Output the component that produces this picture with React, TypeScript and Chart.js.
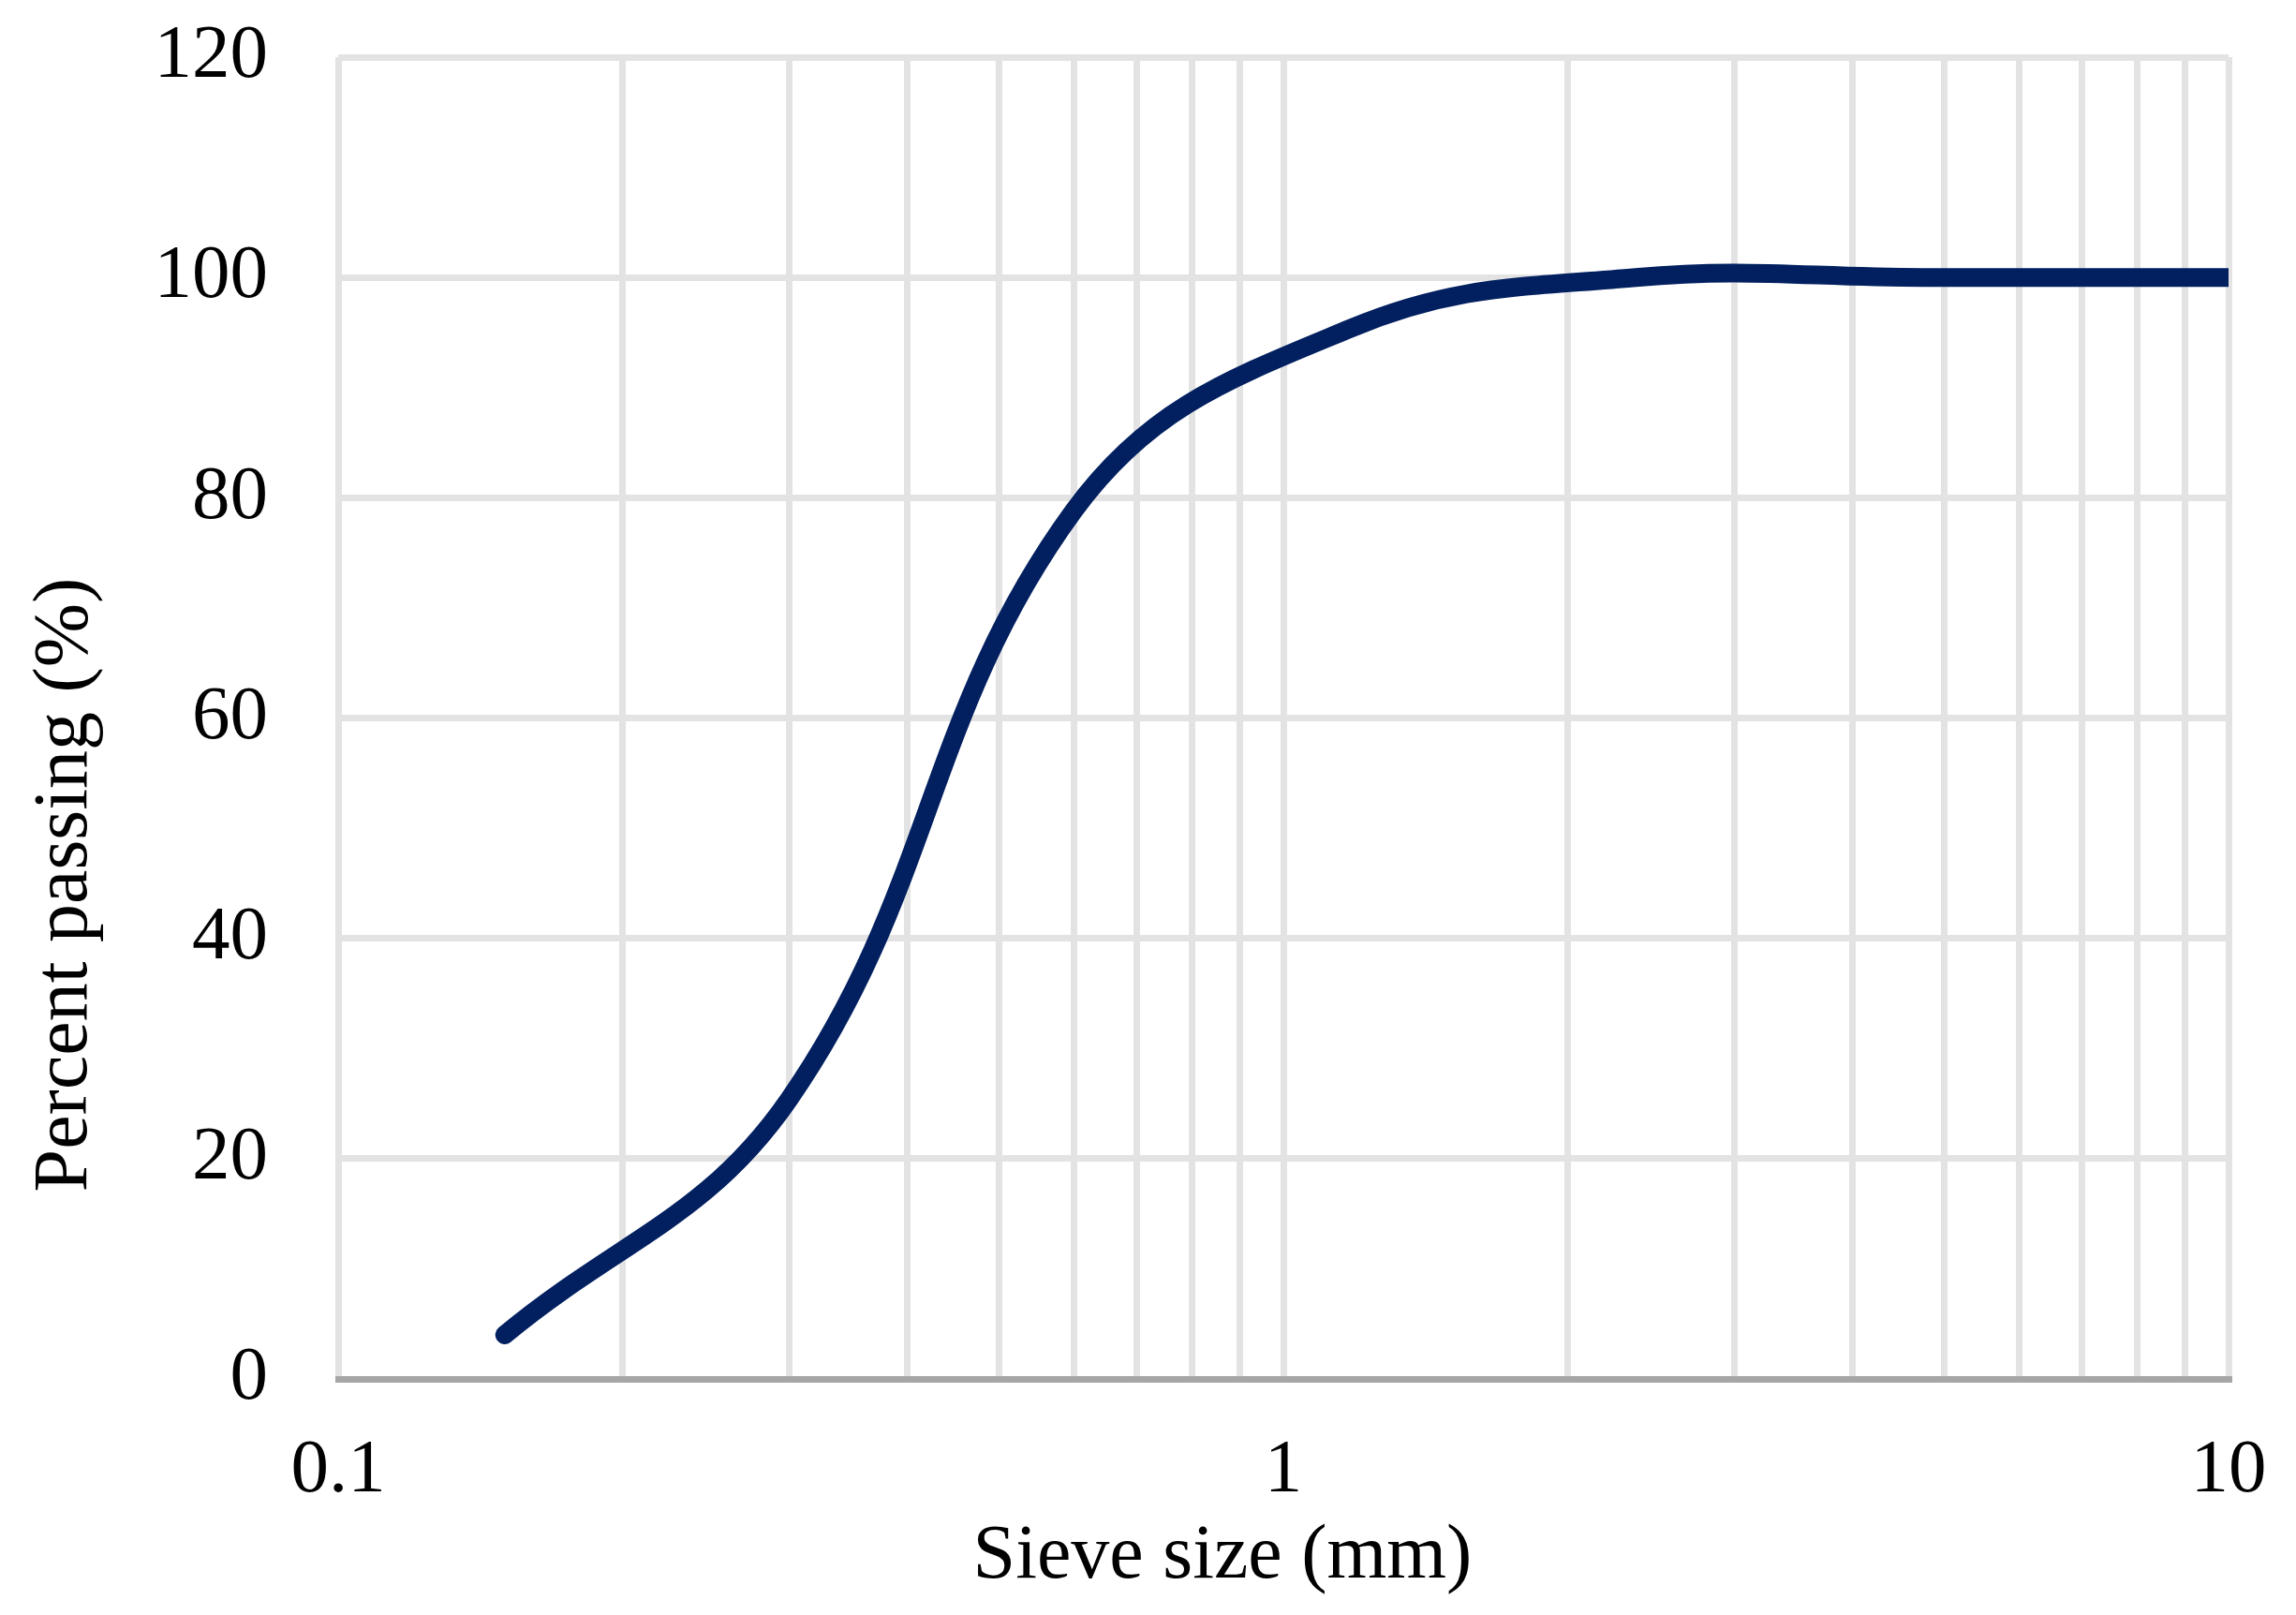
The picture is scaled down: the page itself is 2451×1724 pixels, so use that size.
import React, { useEffect, useRef } from "react";
import { Chart, registerables } from "chart.js";

Chart.register(...registerables);

// Sieve analysis data (standard sieve sizes)
const sieveSizes: number[] = [0.15, 0.3, 0.6, 1.18, 2.36, 4.75, 10];
const percentPassing: number[] = [4, 25.4, 78.8, 95.4, 100, 100, 100];

const xGridValues: number[] = [0.1, 0.2, 0.3, 0.4, 0.5, 0.6, 0.7, 0.8, 0.9, 1, 2, 3, 4, 5, 6, 7, 8, 9, 10];
const xTickLabels: number[] = [0.1, 1, 10];
const yMin = 0;
const yMax = 120;
const yStep = 20;

const xTitle = "Sieve size (mm)";
const yTitle = "Percent passing (%)";

const FONT = "'Liberation Serif', 'Times New Roman', serif";
const GRID = "#e3e3e3";

const titlesPlugin = {
  id: "axisTitlesExcel",
  afterDraw(chart: any) {
    const { ctx, chartArea } = chart;
    ctx.save();
    ctx.fillStyle = "#000";
    ctx.font = `82px ${FONT}`;
    ctx.textAlign = "center";
    ctx.textBaseline = "middle";
    // x title (Excel places it slightly left of the plot centre)
    ctx.fillText(xTitle, (chartArea.left + chartArea.right) / 2 - 65, chart.height - 62);
    // y title, rotated
    ctx.translate(70, (chartArea.top + chartArea.bottom) / 2 + 178);
    ctx.rotate(-Math.PI / 2);
    ctx.fillText(yTitle, 0, 0);
    ctx.restore();
  },
};

export default function App() {
  const ref = useRef<HTMLCanvasElement | null>(null);

  useEffect(() => {
    if (!ref.current) return;
    const chart = new Chart(ref.current, {
      type: "line",
      data: {
        datasets: [
          {
            data: sieveSizes.map((x, i) => ({ x, y: percentPassing[i] })),
            borderColor: "#022060",
            borderWidth: 20,
            borderCapStyle: "round",
            borderJoinStyle: "round",
            pointRadius: 0,
            tension: 0.4,
            fill: false,
            clip: { left: 30, right: 0, top: 30, bottom: 30 },
          },
        ],
      },
      options: {
        animation: false,
        responsive: false,
        maintainAspectRatio: false,
        layout: { padding: 0 },
        plugins: { legend: { display: false }, tooltip: { enabled: false } },
        scales: {
          x: {
            type: "logarithmic",
            min: 0.1,
            max: 10,
            afterBuildTicks: (scale: any) => {
              scale.ticks = xGridValues.map((v) => ({ value: v }));
            },
            afterFit: (scale: any) => {
              scale.height = 252;
              scale.paddingRight = 72;
              scale.paddingLeft = 0;
            },
            ticks: {
              autoSkip: false,
              maxRotation: 0,
              minRotation: 0,
              padding: 50,
              color: "#000",
              font: { family: FONT, size: 81 },
              callback: (value: any) => (xTickLabels.includes(Number(value)) ? String(value) : ""),
            },
            grid: { color: GRID, lineWidth: 7, drawTicks: false },
            border: { display: true, color: "#a6a6a6", width: 7 },
            title: { display: false },
          },
          y: {
            type: "linear",
            min: yMin,
            max: yMax,
            afterFit: (scale: any) => {
              scale.width = 361;
              scale.paddingTop = 61;
            },
            ticks: {
              stepSize: yStep,
              padding: 75,
              color: "#000",
              font: { family: FONT, size: 81 },
            },
            grid: {
              color: (ctx: any) => (ctx.tick && ctx.tick.value === 0 ? "rgba(0,0,0,0)" : GRID),
              lineWidth: 7,
              drawTicks: false,
            },
            border: { display: false },
            title: { display: false },
          },
        },
      },
      plugins: [titlesPlugin],
    } as any);
    return () => chart.destroy();
  }, []);

  return (
    <div style={{ position: "absolute", left: 0, top: 0, width: 2451, height: 1724, background: "#fff" }}>
      <canvas ref={ref} width={2451} height={1724} style={{ width: 2451, height: 1724, display: "block" }} />
    </div>
  );
}
